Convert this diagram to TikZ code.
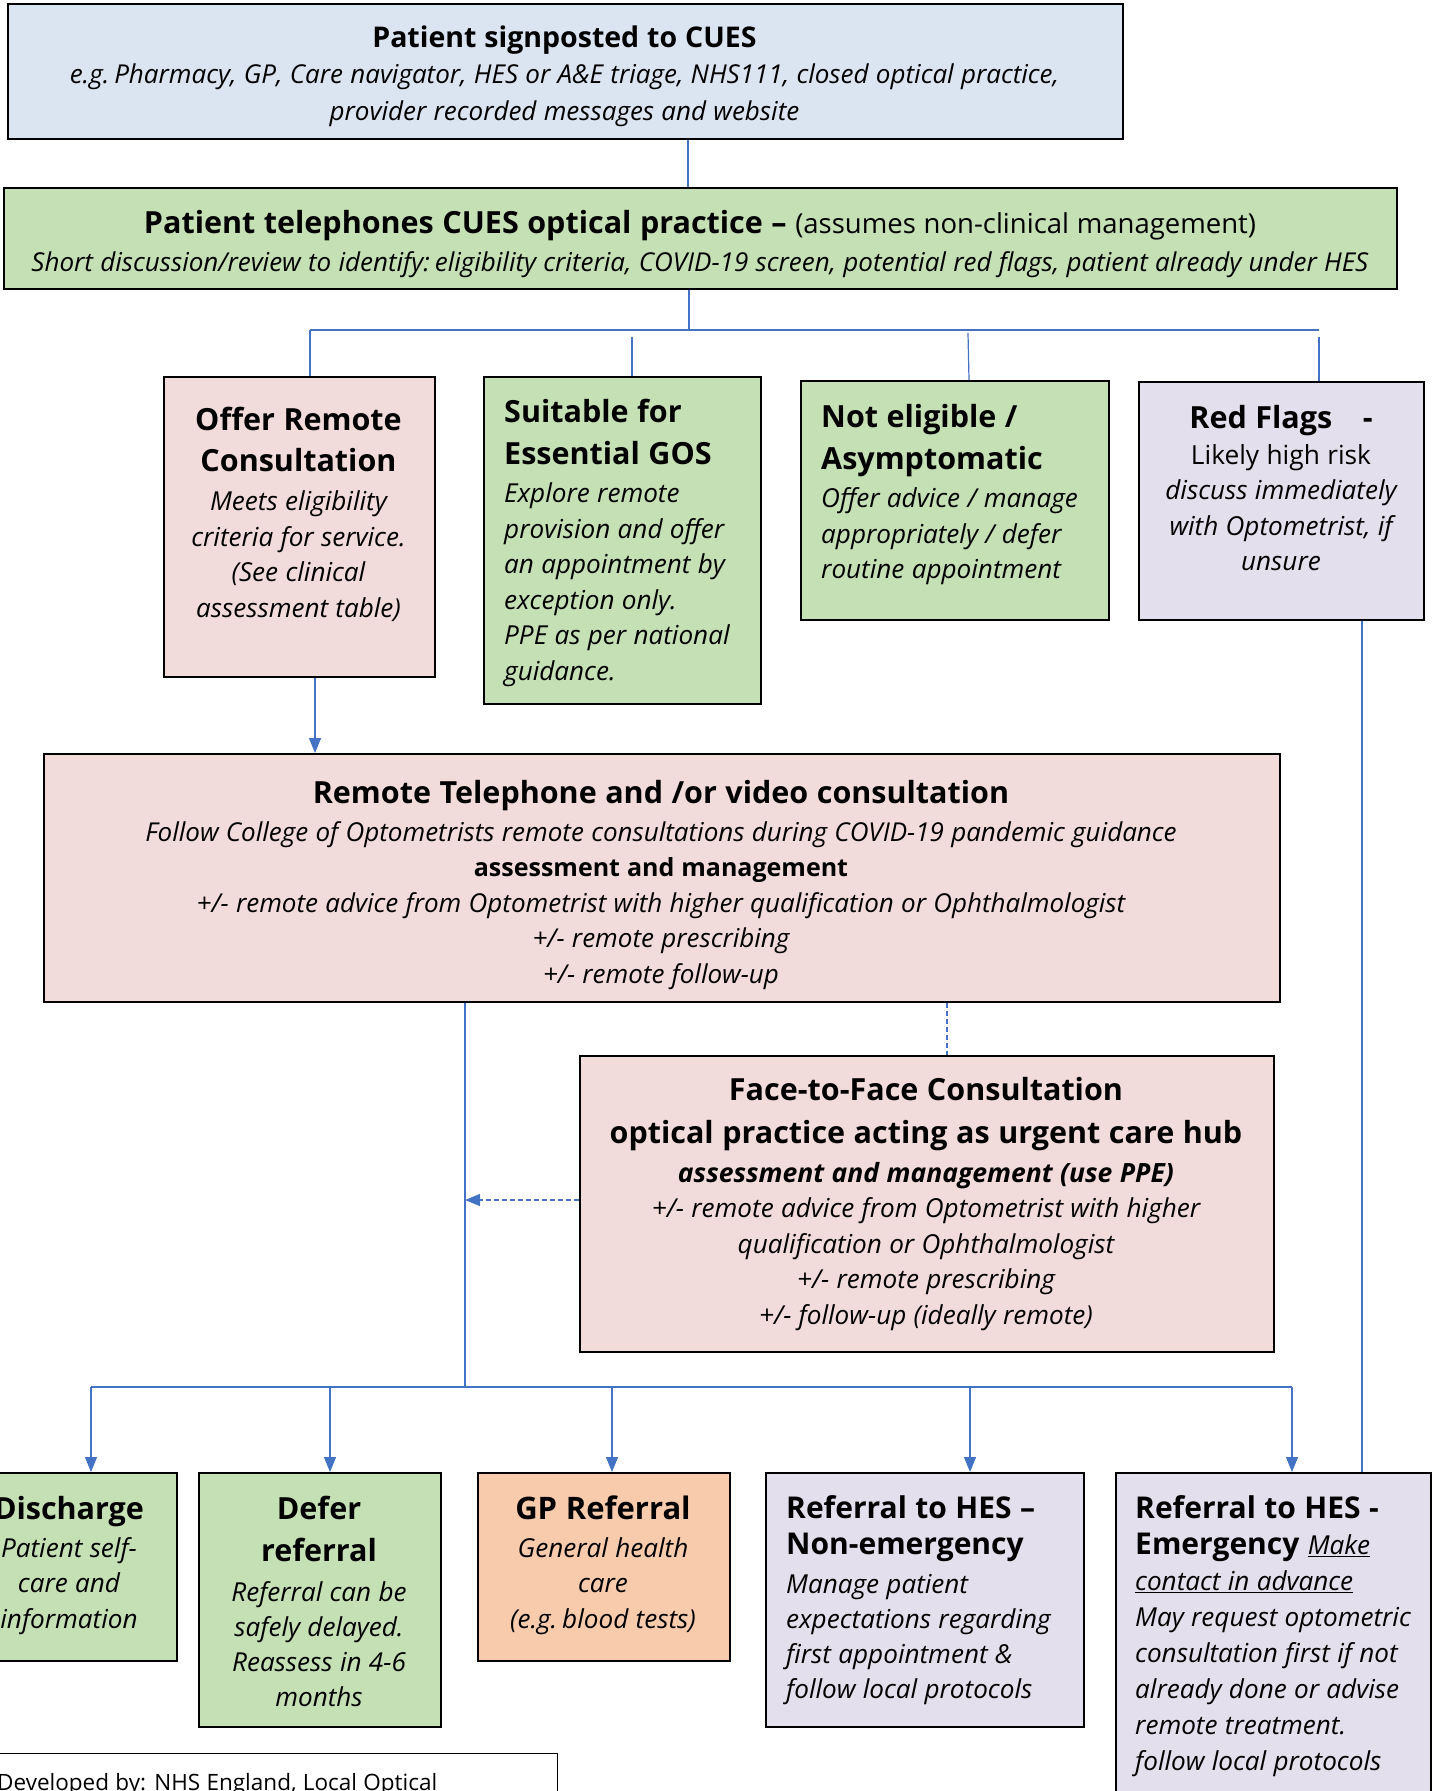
\documentclass[tikz,border=0pt]{standalone}
\usepackage{fontspec}
\setmainfont{Open Sans}
\usetikzlibrary{arrows.meta}
\definecolor{cblue}{RGB}{219,228,241}
\definecolor{cgreen}{RGB}{197,224,180}
\definecolor{cpink}{RGB}{241,220,219}
\definecolor{clav}{RGB}{228,223,236}
\definecolor{corange}{RGB}{248,203,173}
\definecolor{cline}{RGB}{68,114,196}
\setlength{\lineskiplimit}{-100pt}
\tikzset{
  boxnode/.style={draw=black, line width=2pt, inner sep=0pt, anchor=north west},
  txtc/.style={inner sep=0pt, text width=#1, align=center, anchor=base},
  txtl/.style={inner sep=0pt, text width=#1, align=left, anchor=base west},
  link/.style={draw=cline, line width=1.2pt},
  bus/.style={draw=cline, line width=2pt},
  arr/.style={draw=cline, line width=1.2pt, -{Triangle[length=15pt,width=12pt]}},
  darr/.style={draw=cline, line width=1.2pt, dash pattern=on 5pt off 3pt, -{Triangle[length=15pt,width=12pt]}},
  dlink/.style={draw=cline, line width=1.2pt, dash pattern=on 5pt off 3pt},
}
\newcommand{\fs}[2]{\fontsize{#1}{#2}\selectfont\spaceskip=0.28em\relax}
\newcommand{\bodyit}{\fs{26.1}{35.5}\itshape}
\begin{document}
\begin{tikzpicture}[x=1pt,y=-1pt]
\useasboundingbox (0,0) rectangle (1437,1791);
\clip (0,0) rectangle (1437,1791);

% ---------- boxes ----------
\node[boxnode, fill=cblue, minimum width=1115pt, minimum height=135pt] (top) at (7,3) {};
\node[boxnode, fill=cgreen, minimum width=1393pt, minimum height=101pt] (tel) at (3,187) {};
\node[boxnode, fill=cpink, minimum width=271pt, minimum height=300pt] (offer) at (163,376) {};
\node[boxnode, fill=cgreen, minimum width=277pt, minimum height=327pt] (suit) at (483,376) {};
\node[boxnode, fill=cgreen, minimum width=308pt, minimum height=239pt] (noel) at (800,380) {};
\node[boxnode, fill=clav, minimum width=285pt, minimum height=238pt] (red) at (1138,381) {};
\node[boxnode, fill=cpink, minimum width=1236pt, minimum height=248pt] (remote) at (43,753) {};
\node[boxnode, fill=cpink, minimum width=694pt, minimum height=296pt] (f2f) at (579,1055) {};
\node[boxnode, fill=cgreen, minimum width=214pt, minimum height=188pt] (disc) at (-38,1472) {};
\node[boxnode, fill=cgreen, minimum width=242pt, minimum height=254pt] (defer) at (198,1472) {};
\node[boxnode, fill=corange, minimum width=252pt, minimum height=188pt] (gp) at (477,1472) {};
\node[boxnode, fill=clav, minimum width=318pt, minimum height=254pt] (hesn) at (765,1472) {};
\node[boxnode, fill=clav, minimum width=315pt, minimum height=360pt] (hese) at (1115,1472) {};
\node[boxnode, draw=black, line width=1.2pt, fill=white, minimum width=600pt, minimum height=100pt] (dev) at (-43,1753) {};

% ---------- texts ----------
\node[txtc=1100pt] (top-t) at (564.5,47) {%
  {\fs{28.5}{36.6}\bfseries Patient signposted to CUES\par}%
  {\fs{26}{36.6}\itshape e.g. Pharmacy, GP, Care navigator, HES or A\&E triage, NHS111, closed optical practice,\\ provider recorded messages and website\par}};

\node[txtc=1390pt] (tel-t) at (700,233.5) {%
  {\fs{30.5}{38}\bfseries Patient telephones CUES optical practice – \fs{27.5}{38}\mdseries(assumes non-clinical management)\par}%
  {\fs{26}{38}\itshape Short discussion/review to identify: eligibility criteria, COVID-19 screen, potential red flags, patient already under HES\par}};

\node[txtc=268pt] (offer-t) at (298.5,430) {%
  {\fs{30.5}{41}\bfseries Offer Remote\\Consultation\par}\vspace{4pt}%
  {\bodyit Meets eligibility\\criteria for service.\\(See clinical\\assessment table)\par}};

\node[txtl=270pt] (suit-t) at (504,422) {%
  {\fs{30.5}{42}\bfseries Suitable for\\Essential GOS\par}\vspace{3pt}%
  {\bodyit Explore remote\\provision and offer\\an appointment by\\exception only.\\PPE as per national\\guidance.\par}};

\node[txtl=285pt] (noel-t) at (821,427) {%
  {\fs{30.5}{42}\bfseries Not eligible /\\Asymptomatic\par}\vspace{3pt}%
  {\bodyit Offer advice / manage\\appropriately / defer\\routine appointment\par}};

\node[txtc=282pt] (red-t) at (1281,428) {%
  {\fs{30.5}{38}\bfseries Red Flags\quad -\par}%
  {\fs{26.3}{36}Likely high risk\par}%
  {\bodyit discuss immediately\\with Optometrist, if\\unsure\par}};

\node[txtc=1230pt] (remote-t) at (661,803.5) {%
  {\fs{30.5}{38}\bfseries Remote Telephone and /or video consultation\par}%
  {\fs{26}{38}\itshape Follow College of Optometrists remote consultations during COVID-19 pandemic guidance\par}%
  {\fs{25}{35}\bfseries assessment and management\par}%
  {\fs{26}{35.5}\itshape +/- remote advice from Optometrist with higher qualification or Ophthalmologist\\+/- remote prescribing\\+/- remote follow-up\par}};

\node[txtc=690pt] (f2f-t) at (926,1100) {%
  {\fs{30.5}{43}\bfseries Face-to-Face Consultation\\optical practice acting as urgent care hub\par}%
  {\fs{26.5}{39}\bfseries\itshape assessment and management (use PPE)\par}%
  {\bodyit +/- remote advice from Optometrist with higher\\qualification or Ophthalmologist\\+/- remote prescribing\\+/- follow-up (ideally remote)\par}};

\node[txtc=230pt] (disc-t) at (69,1519.5) {%
  {\fs{30.5}{40}\bfseries Discharge\par}%
  {\fs{26.1}{37.5}\itshape Patient self-\\[-2pt]care and\\[-2pt]information\par}};

\node[txtc=240pt] (defer-t) at (319,1519.5) {%
  {\fs{30.5}{42}\bfseries Defer\\referral\par}%
  {\fs{26.1}{40}\itshape Referral can be\\[-5pt]safely delayed.\\[-5pt]Reassess in 4-6\\[-5pt]months\par}};

\node[txtc=250pt] (gp-t) at (603,1519.5) {%
  {\fs{31}{40}\bfseries GP Referral\par}%
  {\fs{26.1}{37.5}\itshape General health\\[-2pt]care\\[-2pt](e.g. blood tests)\par}};

\node[txtl=300pt] (hesn-t) at (786,1518.5) {%
  {\fs{30}{36}\bfseries Referral to HES –\\Non-emergency\par}%
  {\fs{26.1}{39}\itshape Manage patient\\[-4pt]expectations regarding\\[-4pt]first appointment \&\\[-4pt]follow local protocols\par}};

\node[txtl=300pt] (hese-t) at (1135,1518.5) {%
  {\fs{30}{36}\bfseries Referral to HES -\\Emergency {\fs{26.1}{36}\mdseries\itshape\underline{Make}}\par}%
  {\fs{26.1}{36}\itshape \underline{contact in advance}\\May request optometric\\consultation first if not\\already done or advise\\remote treatment.\\follow local protocols\par}};

\node[inner sep=0pt, anchor=base west] (dev-t) at (-3,1790) {\fs{22.5}{30}Developed by: NHS England, Local Optical};

% ---------- connectors ----------
\coordinate (xa) at (688,0);
\coordinate (xb) at (689,0);
\coordinate (busTop) at (689,330);
\coordinate (b1) at (310,330);
\coordinate (b4) at (1319,330);
\draw[link] (top.south -| xa) -- (tel.north -| xa);
\draw[link] (tel.south -| xb) -- (busTop);
\draw[bus] (b1) -- (b4);
\coordinate (d1) at (310,330);
\coordinate (d2) at (632,337);
\coordinate (d3) at (968,333);
\coordinate (d4) at (1319,337);
\draw[link] (d1) -- (offer.north -| d1);
\draw[link] (d2) -- (suit.north -| d2);
\draw[link] (d3) -- (969,380);
\draw[link] (d4) -- (red.north -| d4);

\coordinate (xo) at (315,0);
\draw[arr] (offer.south -| xo) -- (remote.north -| xo);

\coordinate (xr) at (1362,0);
\draw[link] (red.south -| xr) -- (hese.north -| xr);

\coordinate (xv) at (465,0);
\coordinate (busBot) at (465,1387);
\draw[link] (remote.south -| xv) -- (busBot);
\coordinate (xd) at (947,0);
\draw[dlink] (remote.south -| xd) -- (f2f.north -| xd);
\coordinate (fj) at (465,1200);
\draw[darr] (f2f.west |- fj) -- (fj);

\coordinate (bl) at (91,1387);
\coordinate (br) at (1292,1387);
\draw[bus] (bl) -- (br);
\coordinate (a2) at (330,1387);
\coordinate (a3) at (612,1387);
\coordinate (a4) at (970,1387);
\draw[arr] (bl) -- (disc.north -| bl);
\draw[arr] (a2) -- (defer.north -| a2);
\draw[arr] (a3) -- (gp.north -| a3);
\draw[arr] (a4) -- (hesn.north -| a4);
\draw[arr] (br) -- (hese.north -| br);
\end{tikzpicture}
\end{document}
